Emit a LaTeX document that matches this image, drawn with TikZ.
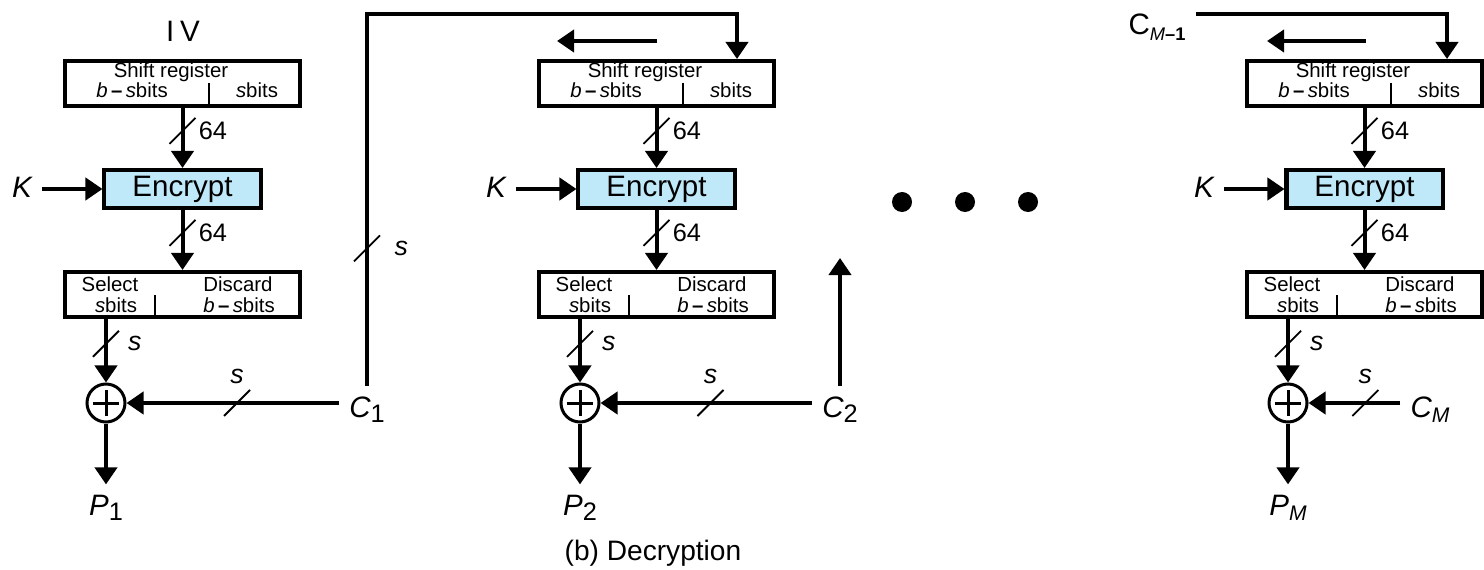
\documentclass[tikz,border=0pt]{standalone}
\usepackage{fontspec}
\setmainfont{Liberation Sans}
\usepackage{xcolor}
\usepackage{tikz}
\usetikzlibrary{arrows.meta}
\definecolor{cifrafundo}{HTML}{BFE8F8}
\newcommand{\ind}[2][18]{\raisebox{-4pt}{\fontsize{#1}{#1}\selectfont\upshape #2}}
\newcommand{\bsbits}{\textit{b}\,\textbf{–}\,\textit{s}bits}

\begin{document}
\begin{tikzpicture}[x=0.025cm, y=-0.025cm,
    caixa/.style={draw, line width=0.1cm, minimum width=5.875cm, minimum height=1.125cm, inner sep=0pt},
    cifra/.style={draw, line width=0.1cm, fill=cifrafundo, minimum width=3.9cm, minimum height=0.95cm,
                  inner sep=0pt, font=\fontsize{21}{24}\selectfont},
    texto/.style={anchor=base, inner sep=0pt, font=\fontsize{14.5}{17}\selectfont},
    rotulo/.style={anchor=base, inner sep=0.25cm, font=\fontsize{21}{24}\selectfont\itshape},
    num/.style={inner sep=1pt, font=\fontsize{18}{20}\selectfont},
    var/.style={inner sep=1pt, font=\fontsize{19}{20}\selectfont\itshape},
    fio/.style={-{Triangle[length=0.425cm, width=0.55cm]}, line width=0.1cm},
    divisor/.style={line width=0.045cm},
    traco/.style={minimum size=0.55cm, inner sep=0pt},
    risco/.style={line width=0.045cm},
    soma/.style={circle, draw, line width=0.075cm, minimum size=0.95cm, inner sep=0pt, path picture={
        \draw[line width=0.075cm]
            ([xshift=-0.33cm]path picture bounding box.center) -- ([xshift=0.33cm]path picture bounding box.center)
            ([yshift=-0.33cm]path picture bounding box.center) -- ([yshift=0.33cm]path picture bounding box.center);}},
    ponto/.style={circle, fill, minimum size=0.5cm, inner sep=0pt}
]
    \useasboundingbox (0,0) rectangle (1484,570);

    % primeiro estagio
    \node[rotulo, font=\fontsize{21}{24}\selectfont] (iv) at (183,42) {I\hspace{0.2em}V};
    \node[caixa] (reg1) at (182.5,83.5) {};
    \node[texto] (sr1) at (171,78) {Shift register};
    \node[texto] (bs1) at (132,98) {\bsbits};
    \node[texto] (sb1) at (257,98) {\textit{s}bits};
    \draw[divisor] (209,83) -- (209,106);
    \node[cifra] (enc1) at (182.5,189) {Encrypt};
    \node[rotulo] (k1) at (22,198) {K};
    \node[caixa] (sel1) at (182.5,294.5) {};
    \node[texto] (se1) at (110,291) {Select};
    \node[texto] (ss1) at (116,312) {\textit{s}bits};
    \node[texto] (di1) at (238,291) {Discard};
    \node[texto] (db1) at (239,312) {\bsbits};
    \draw[divisor] (155,295) -- (155,317);
    \node[soma] (soma1) at (106,403) {};
    \node[rotulo] (c1) at (367,417) {C\ind{1}};
    \node[rotulo] (p1) at (106,515) {P\ind{1}};
    \coordinate (in2) at (737,14);

    \draw[fio] (reg1) -- node[traco, pos=.38, label={[num, name=n1a]right:64}] (t1a) {} (enc1);
    \draw[fio] (enc1.west -| k1.east) -- (enc1.west);
    \draw[fio] (enc1) -- node[traco, pos=.38, label={[num, name=n1b]right:64}] (t1b) {} (sel1);
    \draw[fio] (soma1 |- sel1.south) -- node[traco, pos=.39, label={[var, name=n1c, label distance=4pt]right:s}] (t1c) {} (soma1);
    \draw[fio] (soma1 -| c1.west) -- node[traco, pos=.48, label={[var, name=n1d, label distance=2pt]above:s}] (t1d) {} (soma1);
    \draw[fio] (soma1) -- (p1);

    % segundo estagio
    \node[caixa] (reg2) at (656.5,83.5) {};
    \node[texto] (sr2) at (645,78) {Shift register};
    \node[texto] (bs2) at (606,98) {\bsbits};
    \node[texto] (sb2) at (731,98) {\textit{s}bits};
    \draw[divisor] (683,83) -- (683,106);
    \node[cifra] (enc2) at (656.5,189) {Encrypt};
    \node[rotulo] (k2) at (496,198) {K};
    \node[caixa] (sel2) at (656.5,294.5) {};
    \node[texto] (se2) at (584,291) {Select};
    \node[texto] (ss2) at (590,312) {\textit{s}bits};
    \node[texto] (di2) at (712,291) {Discard};
    \node[texto] (db2) at (713,312) {\bsbits};
    \draw[divisor] (629,295) -- (629,317);
    \node[soma] (soma2) at (580,403) {};
    \node[rotulo] (c2) at (840,417) {C\ind{2}};
    \node[rotulo] (p2) at (580,515) {P\ind{2}};
    \coordinate (sh2a) at (657,41);
    \coordinate (sh2b) at (557,41);
    \coordinate (up2) at (837,258);

    \draw[fio] (c1.north) -- node[traco, pos=.37, label={[var, name=n1e, label distance=8pt]right:s}] (t1e) {} (c1.north |- in2)
        -- (in2) -- (in2 |- reg2.north);
    \draw[fio] (sh2a) -- (sh2b);
    \draw[fio] (reg2) -- node[traco, pos=.38, label={[num, name=n2a]right:64}] (t2a) {} (enc2);
    \draw[fio] (enc2.west -| k2.east) -- (enc2.west);
    \draw[fio] (enc2) -- node[traco, pos=.38, label={[num, name=n2b]right:64}] (t2b) {} (sel2);
    \draw[fio] (soma2 |- sel2.south) -- node[traco, pos=.39, label={[var, name=n2c, label distance=4pt]right:s}] (t2c) {} (soma2);
    \draw[fio] (soma2 -| c2.west) -- node[traco, pos=.48, label={[var, name=n2d, label distance=2pt]above:s}] (t2d) {} (soma2);
    \draw[fio] (soma2) -- (p2);
    \draw[fio] (c2.north) -- (c2.north |- up2);

    % reticencias
    \node[ponto] (d1) at (902,202) {};
    \node[ponto] (d2) at (965,202) {};
    \node[ponto] (d3) at (1028,202) {};

    % ultimo estagio
    \node[rotulo] (cm1) at (1157,35) {{\upshape C}\ind[13]{\textit{M}\textbf{–1}}};
    \node[caixa] (reg3) at (1364.5,83.5) {};
    \node[texto] (sr3) at (1353,78) {Shift register};
    \node[texto] (bs3) at (1314,98) {\bsbits};
    \node[texto] (sb3) at (1439,98) {\textit{s}bits};
    \draw[divisor] (1391,83) -- (1391,106);
    \node[cifra] (enc3) at (1364.5,189) {Encrypt};
    \node[rotulo] (k3) at (1204,198) {K};
    \node[caixa] (sel3) at (1364.5,294.5) {};
    \node[texto] (se3) at (1292,291) {Select};
    \node[texto] (ss3) at (1298,312) {\textit{s}bits};
    \node[texto] (di3) at (1420,291) {Discard};
    \node[texto] (db3) at (1421,312) {\bsbits};
    \draw[divisor] (1337,295) -- (1337,317);
    \node[soma] (soma3) at (1288,403) {};
    \node[rotulo] (cm) at (1430,417) {C\ind[15]{\textit{M}}};
    \node[rotulo] (pm) at (1288,515) {P\ind[15]{\textit{M}}};
    \coordinate (in3) at (1447,14);
    \coordinate (sh3a) at (1366,41);
    \coordinate (sh3b) at (1267,41);

    \draw[fio] (cm1.east |- in3) -- (in3) -- (in3 |- reg3.north);
    \draw[fio] (sh3a) -- (sh3b);
    \draw[fio] (reg3) -- node[traco, pos=.38, label={[num, name=n3a]right:64}] (t3a) {} (enc3);
    \draw[fio] (enc3.west -| k3.east) -- (enc3.west);
    \draw[fio] (enc3) -- node[traco, pos=.38, label={[num, name=n3b]right:64}] (t3b) {} (sel3);
    \draw[fio] (soma3 |- sel3.south) -- node[traco, pos=.39, label={[var, name=n3c, label distance=4pt]right:s}] (t3c) {} (soma3);
    \draw[fio] (soma3 -| cm.west) -- node[traco, pos=.38, label={[var, name=n3d, label distance=2pt]above:s}] (t3d) {} (soma3);
    \draw[fio] (soma3) -- (pm);

    % marcas de largura
    \foreach \t in {t1a,t1b,t1c,t1d,t1e,t2a,t2b,t2c,t2d,t3a,t3b,t3c,t3d}
        \draw[risco] (\t.south west) -- (\t.north east);

    \node[rotulo, font=\fontsize{20}{24}\selectfont] (titulo) at (653,560) {(b) Decryption};
\end{tikzpicture}
\end{document}
